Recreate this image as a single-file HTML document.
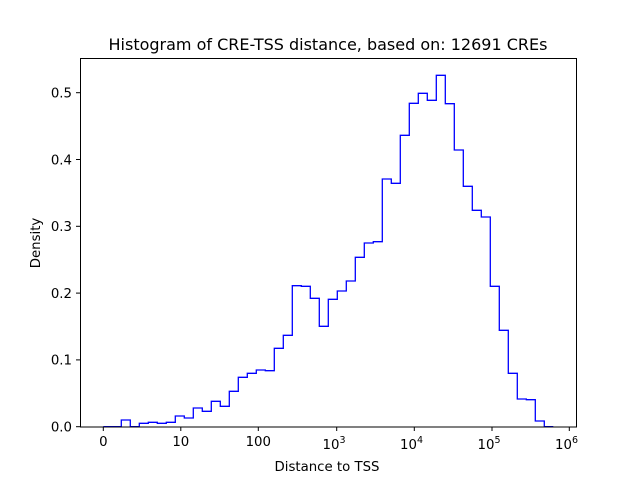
<!DOCTYPE html>
<html><head><meta charset="utf-8"><style>body{margin:0;background:#fff}svg{display:block}text{font-family:"DejaVu Sans","Liberation Sans",sans-serif;fill:#000}</style></head><body>
<svg width="640" height="480" viewBox="0 0 640 480" xmlns="http://www.w3.org/2000/svg">
<rect width="640" height="480" fill="#fff"/>
<path fill="none" stroke="#0000ff" stroke-width="1.3" d="M103.3,426.7 H121.3 V420 H130.3 V426.7 H139.3 V423.3 H148.3 V422.3 H157.3 V423.3 H166.3 V422.3 H175.3 V416 H184.3 V418 H193.3 V408 H202.3 V411.3 H211.3 V401.3 H220.3 V406.3 H229.3 V391.3 H238.3 V377.3 H247.3 V373.3 H256.3 V370 H265.3 V370.7 H274.3 V348.3 H283.3 V335.3 H292.3 V285.7 H301.3 V286.3 H310.3 V298.3 H319.3 V326.3 H328.3 V299.3 H337.3 V291 H346.3 V281 H355.3 V257.3 H364.3 V243 H373.3 V241.7 H382.3 V179 H391.3 V183.3 H400.3 V135.3 H409.3 V103.3 H418.3 V93.3 H427.3 V100.3 H436.3 V75.3 H445.3 V103.7 H454.3 V150 H463.3 V186.3 H472.3 V210.3 H481.3 V217 H490.3 V286.3 H499.3 V330.3 H508.3 V373.3 H517.3 V399 H526.3 V399.7 H535.3 V421 H544.3 V426.7 H553.3"/>
<rect x="80.5" y="58.5" width="496" height="368.5" fill="none" stroke="#000" stroke-width="1"/>
<g stroke="#000" stroke-width="1">
<line x1="103.3" y1="427" x2="103.3" y2="431"/><line x1="180.8" y1="427" x2="180.8" y2="431"/><line x1="258.3" y1="427" x2="258.3" y2="431"/><line x1="336.7" y1="427" x2="336.7" y2="431"/><line x1="414.3" y1="427" x2="414.3" y2="431"/><line x1="492" y1="427" x2="492" y2="431"/><line x1="569.3" y1="427" x2="569.3" y2="431"/>
<line x1="76" y1="426.7" x2="80" y2="426.7"/><line x1="76" y1="359.9" x2="80" y2="359.9"/><line x1="76" y1="293.1" x2="80" y2="293.1"/><line x1="76" y1="226.3" x2="80" y2="226.3"/><line x1="76" y1="159.5" x2="80" y2="159.5"/><line x1="76" y1="92.7" x2="80" y2="92.7"/>
</g>
<g font-size="13.3" text-anchor="middle">
<text x="103.3" y="446">0</text><text x="180.8" y="446">10</text><text x="258.3" y="446">100</text>
<text x="334" y="449">10<tspan font-size="9.5" dy="-6">3</tspan></text>
<text x="411.5" y="449">10<tspan font-size="9.5" dy="-6">4</tspan></text>
<text x="489" y="449">10<tspan font-size="9.5" dy="-6">5</tspan></text>
<text x="566.5" y="449">10<tspan font-size="9.5" dy="-6">6</tspan></text>
<text x="327" y="471">Distance to TSS</text>
</g>
<g font-size="13.3" text-anchor="end">
<text x="72" y="431.5">0.0</text><text x="72" y="364.7">0.1</text><text x="72" y="297.9">0.2</text><text x="72" y="231.1">0.3</text><text x="72" y="164.3">0.4</text><text x="72" y="97.5">0.5</text>
</g>
<text font-size="13.3" text-anchor="middle" transform="translate(40,243) rotate(-90)">Density</text>
<text font-size="16" x="328" y="50" text-anchor="middle">Histogram of CRE-TSS distance, based on: 12691 CREs</text>
</svg>
</body></html>
